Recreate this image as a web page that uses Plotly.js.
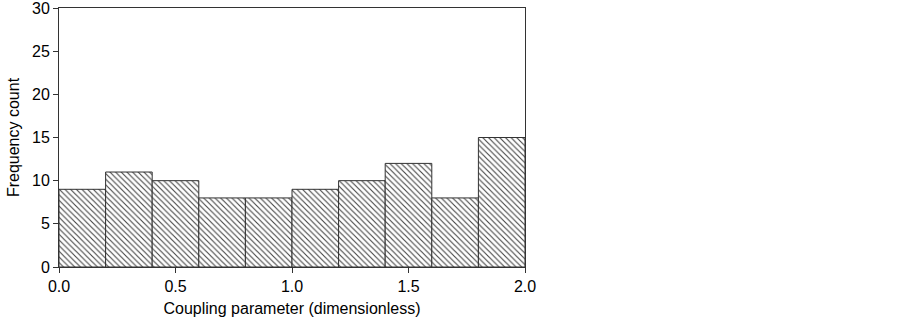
<!DOCTYPE html>
<html>
<head>
<meta charset="utf-8">
<script src="https://cdn.plot.ly/plotly-3.0.1.min.js"></script>
<style>html,body{margin:0;padding:0;background:#fff;}#chart{width:902px;height:319px;}</style>
</head>
<body>
<div id="chart"></div>
<script>
const binStarts = [0.0, 0.2, 0.4, 0.6, 0.8, 1.0, 1.2, 1.4, 1.6, 1.8];
const binWidth = 0.2;
const counts = [9, 11, 10, 8, 8, 9, 10, 12, 8, 15];
const xTickVals = [0.0, 0.5, 1.0, 1.5, 2.0];
const xTickText = ['0.0', '0.5', '1.0', '1.5', '2.0'];
const yTickVals = [0, 5, 10, 15, 20, 25, 30];

const trace = {
  type: 'bar',
  x: binStarts.map(s => s + binWidth / 2),
  y: counts,
  width: binStarts.map(() => binWidth),
  marker: {
    color: '#ffffff',
    line: {color: '#333333', width: 1},
    pattern: {shape: '\\', size: 4, solidity: 0.28, fgcolor: '#444444', bgcolor: '#ffffff'}
  },
  hoverinfo: 'none'
};

const layout = {
  width: 902, height: 319,
  margin: {l: 59, r: 377, t: 8, b: 52},
  paper_bgcolor: '#fff', plot_bgcolor: '#fff',
  font: {family: 'Liberation Sans, Arial, sans-serif', size: 16, color: '#000'},
  showlegend: false,
  bargap: 0,
  xaxis: {
    range: [0, 2], tickvals: xTickVals, ticktext: xTickText,
    ticks: 'outside', ticklen: 5, tickcolor: '#333', tickwidth: 1,
    ticklabeloverflow: 'allow',
    showline: true, linecolor: '#333', linewidth: 1, mirror: true,
    showgrid: false, zeroline: false,
    title: {text: 'Coupling parameter (dimensionless)', font: {size: 16}, standoff: 8}
  },
  yaxis: {
    range: [0, 30], tickvals: yTickVals,
    ticks: 'outside', ticklen: 5, tickcolor: '#333', tickwidth: 1,
    ticklabeloverflow: 'allow',
    showline: true, linecolor: '#333', linewidth: 1, mirror: true,
    showgrid: false, zeroline: false,
    title: {text: 'Frequency count', font: {size: 16}, standoff: 8}
  }
};

Plotly.newPlot('chart', [trace], layout, {displayModeBar: false, staticPlot: true});
</script>
</body>
</html>
